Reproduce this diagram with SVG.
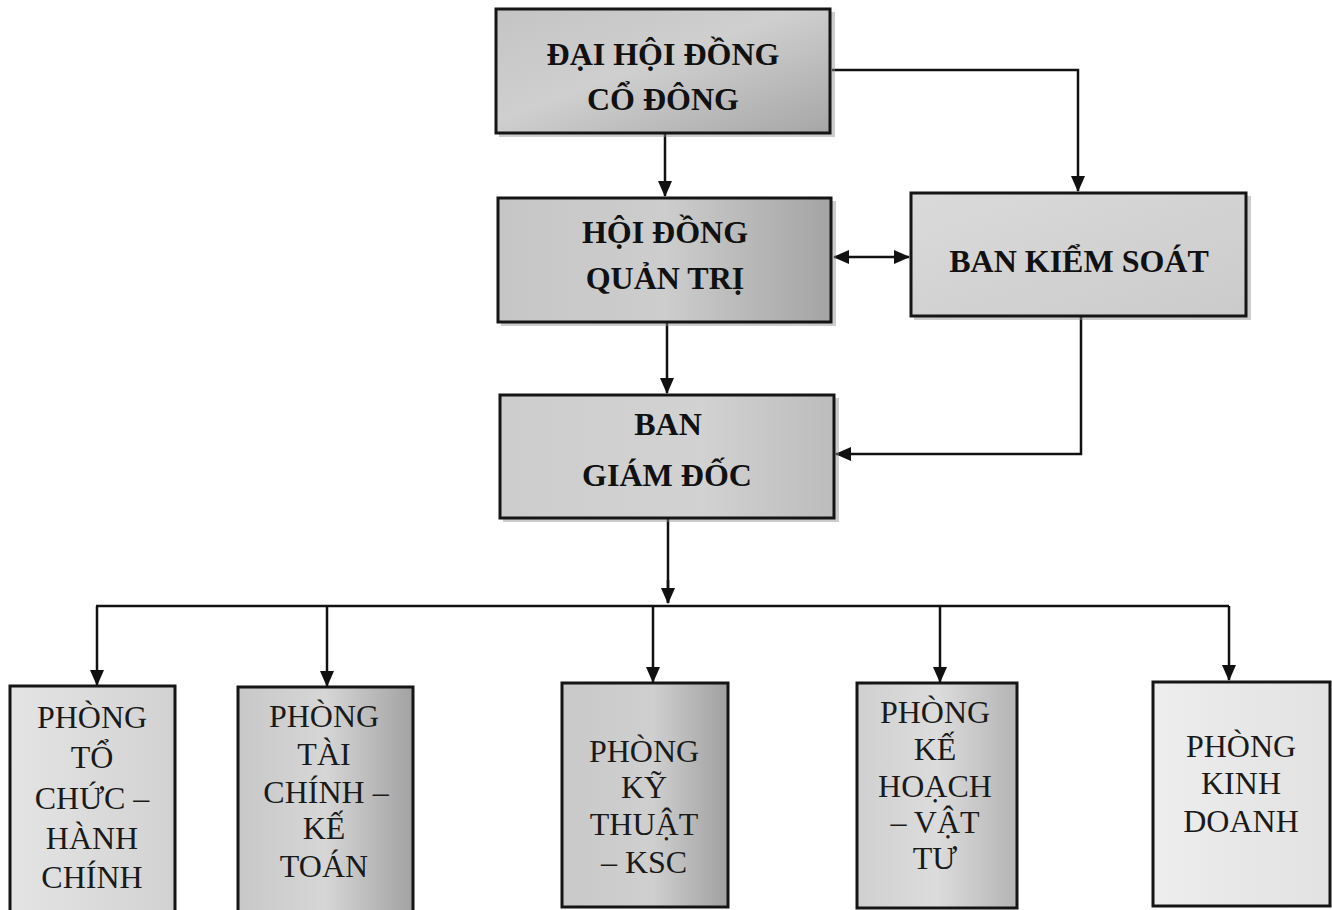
<svg xmlns="http://www.w3.org/2000/svg" width="1332" height="910" viewBox="0 0 1332 910">
  <defs>
    <style>
      .box { stroke: #151515; stroke-width: 3; }
      .shadow { fill: #8e8e8e; opacity: 0.45; }
      .tb { font-family: "Liberation Serif", "Times New Roman", serif; font-weight: bold; font-size: 32px; fill: #111; text-anchor: middle; }
      .tr { font-family: "Liberation Serif", "Times New Roman", serif; font-size: 32px; fill: #1a1a1a; text-anchor: middle; }
      .conn { fill: none; stroke: #111; stroke-width: 2.5; }
    </style>
    <linearGradient id="gTop" x1="0" y1="0" x2="1" y2="1">
      <stop offset="0" stop-color="#c4c4c4"/>
      <stop offset="0.45" stop-color="#cfcfcf"/>
      <stop offset="1" stop-color="#a6a6a6"/>
    </linearGradient>
    <linearGradient id="gMid" x1="0" y1="0" x2="1" y2="0">
      <stop offset="0" stop-color="#c6c6c6"/>
      <stop offset="0.5" stop-color="#cdcdcd"/>
      <stop offset="1" stop-color="#a4a4a4"/>
    </linearGradient>
    <linearGradient id="gBks" x1="0" y1="0" x2="1" y2="1">
      <stop offset="0" stop-color="#dadada"/>
      <stop offset="1" stop-color="#cbcbcb"/>
    </linearGradient>
    <linearGradient id="gBgd" x1="0" y1="0" x2="1" y2="0">
      <stop offset="0" stop-color="#cdcdcd"/>
      <stop offset="0.6" stop-color="#d2d2d2"/>
      <stop offset="1" stop-color="#bcbcbc"/>
    </linearGradient>
    <linearGradient id="gB1" x1="0" y1="0" x2="1" y2="0">
      <stop offset="0" stop-color="#e4e4e4"/>
      <stop offset="1" stop-color="#d2d2d2"/>
    </linearGradient>
    <linearGradient id="gB2" x1="0" y1="0" x2="1" y2="0">
      <stop offset="0" stop-color="#c8c8c8"/>
      <stop offset="0.5" stop-color="#d6d6d6"/>
      <stop offset="1" stop-color="#a2a2a2"/>
    </linearGradient>
    <linearGradient id="gB3" x1="0" y1="0" x2="1" y2="0">
      <stop offset="0" stop-color="#c9c9c9"/>
      <stop offset="0.55" stop-color="#cfcfcf"/>
      <stop offset="1" stop-color="#a0a0a0"/>
    </linearGradient>
    <linearGradient id="gB4" x1="0" y1="0" x2="1" y2="0">
      <stop offset="0" stop-color="#d0d0d0"/>
      <stop offset="0.5" stop-color="#dcdcdc"/>
      <stop offset="1" stop-color="#b4b4b4"/>
    </linearGradient>
    <linearGradient id="gB5" x1="0" y1="0" x2="1" y2="0">
      <stop offset="0" stop-color="#ededed"/>
      <stop offset="1" stop-color="#e2e2e2"/>
    </linearGradient>
    <marker id="arr" markerUnits="userSpaceOnUse" markerWidth="16" markerHeight="14" viewBox="0 0 16 14" refX="15" refY="7" orient="auto-start-reverse">
      <path d="M0,0 L16,7 L0,14 z" fill="#111"/>
    </marker>
  </defs>

  <rect width="1332" height="910" fill="#ffffff"/>

  <g id="connectors">
    <path class="conn" d="M665,134 V196" marker-end="url(#arr)"/>
    <path class="conn" d="M832,70 H1078 V191" marker-end="url(#arr)"/>
    <path class="conn" d="M834,257 H909" marker-start="url(#arr)" marker-end="url(#arr)"/>
    <path class="conn" d="M667,323 V393" marker-end="url(#arr)"/>
    <path class="conn" d="M1081,317 V454 H836" marker-end="url(#arr)"/>
    <path class="conn" d="M668,519 V603"/>
    <path class="conn" d="M668,580 V603" marker-end="url(#arr)"/>
    <path class="conn" d="M96,606 H1229"/>
    <path class="conn" d="M97,606 V685" marker-end="url(#arr)"/>
    <path class="conn" d="M327,606 V686" marker-end="url(#arr)"/>
    <path class="conn" d="M653,606 V682" marker-end="url(#arr)"/>
    <path class="conn" d="M940,606 V682" marker-end="url(#arr)"/>
    <path class="conn" d="M1229,606 V680" marker-end="url(#arr)"/>
  </g>

  <g id="dai-hoi-dong-co-dong">
    <rect class="shadow" x="499" y="12" width="336" height="125"/>
    <rect class="box" x="496" y="9" width="334" height="124" fill="url(#gTop)"/>
    <text class="tb" x="663" y="65">ĐẠI HỘI ĐỒNG</text>
    <text class="tb" x="663" y="110">CỔ ĐÔNG</text>
  </g>

  <g id="hoi-dong-quan-tri">
    <rect class="shadow" x="501" y="201" width="335" height="125"/>
    <rect class="box" x="498" y="198" width="333" height="124" fill="url(#gMid)"/>
    <text class="tb" x="665" y="243">HỘI ĐỒNG</text>
    <text class="tb" x="665" y="289">QUẢN TRỊ</text>
  </g>

  <g id="ban-kiem-soat">
    <rect class="shadow" x="914" y="196" width="337" height="124"/>
    <rect class="box" x="911" y="193" width="335" height="123" fill="url(#gBks)"/>
    <text class="tb" x="1079" y="272">BAN KIỂM SOÁT</text>
  </g>

  <g id="ban-giam-doc">
    <rect class="shadow" x="503" y="398" width="336" height="124"/>
    <rect class="box" x="500" y="395" width="334" height="123" fill="url(#gBgd)"/>
    <text class="tb" x="668" y="435">BAN</text>
    <text class="tb" x="667" y="486">GIÁM ĐỐC</text>
  </g>

  <g id="phong-to-chuc-hanh-chinh">
    <rect class="box" x="10" y="686" width="165" height="230" fill="url(#gB1)"/>
    <text class="tr" x="92" y="728">PHÒNG</text>
    <text class="tr" x="92" y="768">TỔ</text>
    <text class="tr" x="92" y="809">CHỨC –</text>
    <text class="tr" x="92" y="849">HÀNH</text>
    <text class="tr" x="92" y="888">CHÍNH</text>
  </g>

  <g id="phong-tai-chinh-ke-toan">
    <rect class="box" x="238" y="687" width="175" height="230" fill="url(#gB2)"/>
    <text class="tr" x="324" y="727">PHÒNG</text>
    <text class="tr" x="324" y="765">TÀI</text>
    <text class="tr" x="326" y="803">CHÍNH –</text>
    <text class="tr" x="324" y="839">KẾ</text>
    <text class="tr" x="324" y="877">TOÁN</text>
  </g>

  <g id="phong-ky-thuat-ksc">
    <rect class="box" x="562" y="683" width="166" height="224" fill="url(#gB3)"/>
    <text class="tr" x="644" y="762">PHÒNG</text>
    <text class="tr" x="644" y="798">KỸ</text>
    <text class="tr" x="644" y="835">THUẬT</text>
    <text class="tr" x="644" y="873">– KSC</text>
  </g>

  <g id="phong-ke-hoach-vat-tu">
    <rect class="box" x="857" y="683" width="160" height="225" fill="url(#gB4)"/>
    <text class="tr" x="935" y="723">PHÒNG</text>
    <text class="tr" x="935" y="760">KẾ</text>
    <text class="tr" x="935" y="797">HOẠCH</text>
    <text class="tr" x="935" y="833">– VẬT</text>
    <text class="tr" x="935" y="869">TƯ</text>
  </g>

  <g id="phong-kinh-doanh">
    <rect class="box" x="1153" y="682" width="177" height="224" fill="url(#gB5)"/>
    <text class="tr" x="1241" y="757">PHÒNG</text>
    <text class="tr" x="1241" y="794">KINH</text>
    <text class="tr" x="1241" y="832">DOANH</text>
  </g>
</svg>
